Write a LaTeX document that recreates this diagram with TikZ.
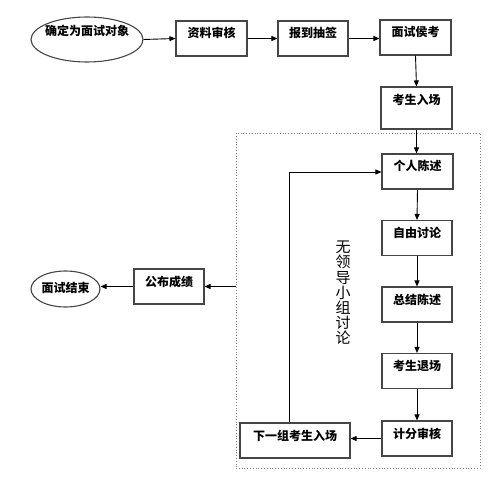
\documentclass[tikz,border=0pt]{standalone}
\usepackage{fontspec}
\setmainfont{Noto Sans CJK SC}
\usetikzlibrary{arrows.meta,shapes.geometric}
\definecolor{bordergray}{RGB}{70,70,70}
\begin{document}
\begin{tikzpicture}[x=1pt,y=-1pt,
  box/.style={draw=bordergray,line width=1.1pt,rectangle,inner xsep=0pt,inner ysep=0pt,
    minimum width=71pt,text height=17pt,text depth=18pt,font=\fontsize{12}{13}\selectfont\bfseries},
  tallbox/.style={box,text height=18pt,text depth=24pt},
  oval/.style={draw=bordergray,line width=1.1pt,ellipse,inner sep=0pt,
    font=\fontsize{12}{13}\selectfont\bfseries},
  arr/.style={-{Triangle[length=6pt,width=5pt]},line width=0.9pt,black},
  line/.style={line width=0.9pt,black}]
\useasboundingbox (0,0) rectangle (500,486);
% dotted frame
\node[draw=gray,dotted,line width=0.8pt,minimum width=244pt,minimum height=335pt,inner sep=0pt] (frame) at (358,300.5) {};
% top row
\node[oval,minimum width=112pt,minimum height=45pt,text height=9pt,text depth=9pt] (start) at (87,39.5) {\raisebox{4pt}{\makebox[66pt]{确定为面试对象}}};
\node[box] (zl) at (211.5,38.5) {资料审核};
\node[box,minimum width=70pt] (bd) at (313,38.5) {报到抽签};
\node[box] (ms) at (415.5,37.5) {面试侯考};
\node[tallbox] (rc) at (416.5,108) {考生入场};
% inside frame
\node[box] (gr) at (417.5,171.5) {个人陈述};
\node[box,minimum width=70pt] (zy) at (417,238) {自由讨论};
\node[box,minimum width=70pt] (zj) at (417,304.5) {总结陈述};
\node[box,minimum width=70pt] (tc) at (417,371) {考生退场};
\node[box,minimum width=70pt] (jf) at (417,438.5) {计分审核};
\node[box,minimum width=110pt] (xy) at (295,440.5) {下一组考生入场};
\node[align=center,font=\fontsize{15}{15.2}\selectfont,inner sep=0pt] (wl) at (343,293) {无\\领\\导\\小\\组\\讨\\论};
% left
\node[box,minimum width=70pt] (gb) at (169,286.5) {公布成绩};
\node[oval,minimum width=69pt,minimum height=36pt,text height=9pt,text depth=3pt] (end) at (65.5,289) {\makebox[44pt]{面试结束}};
% connectors
\draw[arr] (start.east) -- (zl.west);
\draw[arr] (zl.east) -- (bd.west);
\draw[arr] (bd.east) -- (ms.west |- bd.east);
\draw[arr] (ms.south) -- (rc.north);
\draw[arr] (rc.south) -- (gr.north -| rc.south);
\draw[arr] (gr.south) -- (zy.north);
\draw[arr] (zy.south) -- (zj.north);
\draw[arr] (zj.south) -- (tc.north);
\draw[arr] (tc.south) -- (jf.north);
\draw[arr] (jf.west) -- (xy.east |- jf.west);
\coordinate (c1) at (289,172);
\draw[arr] (xy.north -| c1) -- (c1) -- (gr.west |- c1);
\draw[arr] (frame.west |- gb.east) -- (gb.east);
\draw[arr] (gb.west) -- (end.east |- gb.west);
\end{tikzpicture}
\end{document}
